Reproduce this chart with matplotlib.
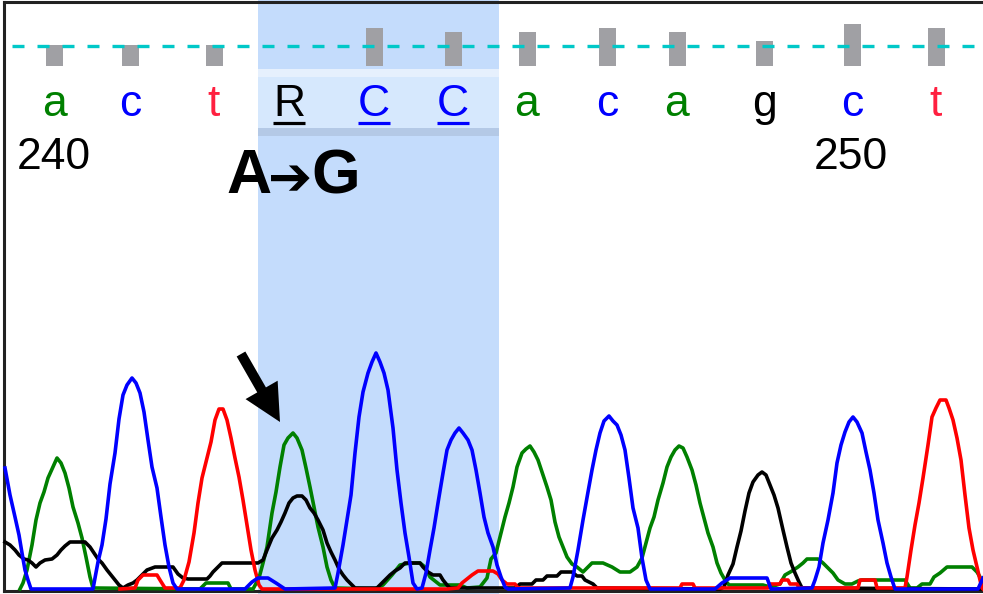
import matplotlib
matplotlib.use("Agg")
import matplotlib.pyplot as plt
from matplotlib.patches import FancyArrow, Rectangle

plt.rcParams['font.family'] = ['Liberation Sans', 'DejaVu Sans']

# base calls
BASES = ['a', 'c', 't', 'R', 'C', 'C', 'a', 'c', 'a', 'g', 'c', 't']
BASE_POS = [54, 130, 214, 289, 374, 453, 527, 607, 677, 764, 852, 936]
BASE_COLORS = ['#008000', '#0000ff', '#ff2040', '#000000', '#0000ff', '#0000ff',
               '#008000', '#0000ff', '#008000', '#000000', '#0000ff', '#ff2040']
UNDERLINED = [False, False, False, True, True, True,
              False, False, False, False, False, False]
QUALITY = [21, 21, 21, 0, 38, 34, 34, 38, 34, 25, 42, 38]
NUMBER_LABELS = ['240', '250']
NUMBER_POS = [54, 851]
MUTATION = ('A', 'G')

# trace channels (scan position, signal)
BLUE_X = [5, 10, 15, 19, 22, 25, 28, 31,
          93, 95, 98, 102, 106, 110, 115, 119, 123, 127, 132, 136, 140, 144, 148, 152, 157, 161, 165, 169, 173, 177,
          245, 252, 258, 268, 276, 285,
          335, 338, 343, 347, 351, 355, 359, 363, 368, 372, 376, 380, 384, 388, 393, 397, 401, 405, 409, 413, 417,
          422, 426, 430, 434, 438, 443, 447, 451, 455, 459, 463, 468, 472, 476, 480, 484, 488, 493, 497, 501, 505, 508,
          570, 573, 578, 583, 588, 592, 596, 600, 604, 609, 613, 617, 621, 625, 629, 633, 638, 642, 646, 650,
          715, 722, 730, 767, 771,
          812, 815, 819, 823, 828, 833, 837, 841, 845, 849, 853, 857, 862, 866, 870, 874, 878, 883, 887, 891, 895,
          978, 983]
BLUE_Y = [121, 94, 72, 54, 36, 19, 9, 0,
          0, 11, 27, 44, 70, 105, 136, 170, 194, 204, 211, 206, 196, 177, 149, 122, 101, 72, 44, 22, 6, 0,
          0, 7, 11, 11, 6, 0,
          1, 16, 44, 69, 94, 136, 172, 197, 216, 227, 236, 227, 216, 199, 161, 119, 86, 56, 32, 6, 0,
          1, 16, 39, 61, 86, 116, 139, 149, 156, 161, 156, 149, 139, 119, 96, 72, 56, 42, 24, 12, 2, 0,
          1, 12, 39, 69, 97, 119, 139, 156, 168, 173, 168, 164, 154, 139, 111, 81, 61, 31, 9, 0,
          0, 6, 11, 11, 0,
          1, 9, 22, 46, 69, 96, 126, 144, 157, 167, 172, 167, 156, 137, 119, 96, 69, 46, 26, 12, 0,
          0, 11]

GREEN_X = [20, 23, 27, 32, 36, 40, 44, 48, 53, 57, 61, 65, 69, 73, 78, 82, 86, 90, 93,
           200, 206, 228, 231,
           253, 259, 263, 267, 272, 276, 280, 284, 288, 293, 297, 302, 306, 310, 314, 318, 323, 327, 331, 335,
           375, 383, 392, 400, 410, 420, 425, 430, 440, 460, 467, 480, 487, 491, 496,
           501, 505, 509, 513, 517, 522, 526, 530, 534, 538, 542, 547, 551, 555, 559, 563, 567, 572, 577, 583,
           588, 592, 603, 612, 620, 630, 637, 642, 646, 650, 654, 658, 663, 667, 671, 675, 679, 683, 687, 692,
           696, 700, 704, 708, 713, 717, 721, 725, 729, 763, 770, 780, 785, 792, 798, 803, 807, 818, 823, 828,
           833, 838, 845, 852, 858, 862, 905, 910, 917, 922, 930, 934, 940, 947, 972, 977, 980, 983]
GREEN_Y = [0, 6, 19, 44, 69, 86, 97, 111, 122, 131, 126, 116, 101, 82, 66, 51, 32, 12, 1,
           0, 6, 6, 0,
           0, 11, 26, 42, 76, 97, 122, 144, 151, 156, 151, 139, 121, 102, 82, 62, 42, 22, 9, 1,
           0, 4, 14, 24, 26, 26, 22, 12, 4, 4, 1, 2, 11, 30, 36,
           56, 72, 86, 102, 122, 136, 140, 143, 137, 129, 117, 102, 89, 67, 52, 42, 32, 25, 22, 17,
           22, 26, 26, 22, 17, 17, 22, 31, 46, 61, 72, 89, 106, 122, 132, 139, 143, 141, 132, 119,
           104, 86, 71, 56, 42, 26, 16, 9, 4, 4, 2, 5, 14, 18, 22, 26, 30, 30, 26, 21,
           16, 9, 5, 5, 8, 9, 9, 1, 1, 5, 5, 12, 16, 22, 22, 17, 12, 6]

BLACK_X = [5, 10, 15, 19, 24, 28, 32, 36, 40, 45, 52, 57, 61, 65, 70, 85, 90, 94, 98, 102, 107, 111,
           115, 119, 123, 128, 133, 137, 147, 155, 173, 178, 183, 188, 207, 210, 213, 218, 222, 258, 263,
           267, 272, 277, 281, 285, 289, 293, 297, 302, 306, 310, 314, 318, 323, 327, 331, 335, 339, 343,
           347, 352, 355, 377, 380, 385, 390, 395, 400, 405, 420, 423, 428, 433, 440, 443, 447, 450,
           515, 520, 532, 536, 543, 547, 557, 561, 572, 577, 582, 585, 593, 597,
           720, 724, 728, 733, 737, 741, 745, 749, 753, 758, 762, 766, 770, 774, 778, 783, 787, 791,
           795, 799, 802, 983]
BLACK_Y = [47, 44, 39, 34, 30, 29, 26, 22, 26, 29, 30, 34, 39, 43, 47, 47, 42, 36, 30, 26, 19, 14,
           9, 4, 1, 4, 6, 9, 19, 22, 22, 15, 11, 10, 10, 13, 17, 22, 26, 26, 29,
           39, 51, 59, 67, 76, 86, 91, 93, 93, 89, 81, 76, 69, 59, 46, 37, 29, 20, 14,
           9, 4, 1, 1, 4, 9, 14, 18, 21, 26, 26, 22, 17, 14, 14, 9, 4, 1,
           1, 5, 5, 9, 9, 13, 13, 17, 17, 13, 13, 9, 5, 1,
           0, 2, 14, 25, 42, 58, 78, 96, 107, 114, 117, 114, 104, 94, 81, 59, 42, 26,
           16, 7, 1, 0]

RED_X = [120, 135, 138, 143, 157, 160, 165, 180, 184, 189, 194, 198, 202, 207, 211, 215, 219, 223,
         227, 231, 235, 239, 243, 247, 251, 255, 259, 262,
         447, 458, 462, 467, 472, 478, 493, 498, 502, 507, 515, 518,
         665, 680, 682, 693, 695, 710, 768, 770, 780, 782, 788, 790, 797, 799,
         847, 858, 860, 875, 877, 905, 907, 911, 915, 919, 923, 928, 932, 936, 940, 946,
         949, 953, 957, 961, 965, 969, 973, 977, 980, 982, 983]
RED_Y = [0, 1, 9, 14, 14, 9, 1, 1, 9, 27, 56, 86, 111, 131, 147, 169, 180, 180,
         169, 151, 131, 112, 89, 64, 39, 19, 4, 0,
         0, 1, 6, 10, 14, 18, 18, 15, 9, 5, 5, 1,
         1, 1, 5, 5, 1, 1, 1, 5, 5, 9, 9, 5, 5, 1,
         1, 1, 9, 9, 1, 1, 12, 39, 64, 86, 111, 144, 172, 181, 189, 189,
         181, 169, 151, 129, 94, 61, 39, 22, 9, 1, 0]


def main():
    W, H = 983, 594
    fig = plt.figure(figsize=(W / 100, H / 100), dpi=100)

    # decoration axes in pixel coordinates
    ax = fig.add_axes([0, 0, 1, 1])
    ax.set_xlim(0, W)
    ax.set_ylim(H, 0)
    ax.axis('off')

    # highlighted region
    ax.add_patch(Rectangle((258, 0), 241, H, color='#c4dcfc', lw=0, zorder=0))
    ax.add_patch(Rectangle((258, 69), 241, 8, color='#e6f0fd', lw=0, zorder=1))
    ax.add_patch(Rectangle((258, 77), 241, 51, color='#d6e8fd', lw=0, zorder=1))
    ax.add_patch(Rectangle((258, 128), 241, 8, color='#b4c9e6', lw=0, zorder=1))

    # quality bars + threshold line
    ax.bar(BASE_POS, [-q for q in QUALITY], bottom=66, width=17,
           color='#a0a0a4', zorder=2)
    ax.plot([12, W], [46, 46], color='#00c8c8', lw=2.4,
            dashes=(3.6, 3.9), zorder=3)

    # base letters
    for b, x, c, u in zip(BASES, BASE_POS, BASE_COLORS, UNDERLINED):
        ax.text(x, 116, b, color=c, fontsize=32, ha='center', va='baseline',
                zorder=4)
        if u:
            ax.plot([x - 16, x + 16], [122.5, 122.5], color=c, lw=2.3,
                    solid_capstyle='butt', zorder=4)

    for lab, x in zip(NUMBER_LABELS, NUMBER_POS):
        ax.text(x, 169, lab, color='black', fontsize=32, ha='center',
                va='baseline', zorder=4)

    # mutation label
    ax.text(226, 193, MUTATION[0], fontsize=45, fontweight='bold',
            ha='left', va='baseline', zorder=4)
    ax.text(290, 195, '\u2794', fontsize=38, family='DejaVu Sans',
            ha='center', va='baseline', zorder=4)
    ax.text(311, 193, MUTATION[1], fontsize=45, fontweight='bold',
            ha='left', va='baseline', zorder=4)

    # pointer arrow
    ax.add_patch(FancyArrow(241, 354, 39, 68, width=10, head_width=37,
                            head_length=37, length_includes_head=True,
                            color='black', lw=0, zorder=6))

    # frame
    ax.plot([4, W], [2, 2], color='#222222', lw=2.2, zorder=7)
    ax.plot([4, 4], [2, 591], color='#222222', lw=2.2, zorder=7)
    ax.plot([4, W], [591, 591], color='#222222', lw=2.2, zorder=7)

    # trace axes
    tr = fig.add_axes([0, 5 / H, 1, 589 / H])
    tr.set_xlim(0, W)
    tr.set_ylim(0, 589)
    tr.axis('off')
    tr.patch.set_alpha(0)
    tr.plot(GREEN_X, GREEN_Y, color='#008000', lw=2.6, clip_on=False)
    tr.plot(BLACK_X, BLACK_Y, color='black', lw=2.6, clip_on=False)
    tr.plot(RED_X, RED_Y, color='#ff0000', lw=2.6, clip_on=False)
    tr.plot(BLUE_X, BLUE_Y, color='#0000ff', lw=2.6, clip_on=False)

    fig.savefig('out.png', dpi=100)


if __name__ == "__main__":
    main()
